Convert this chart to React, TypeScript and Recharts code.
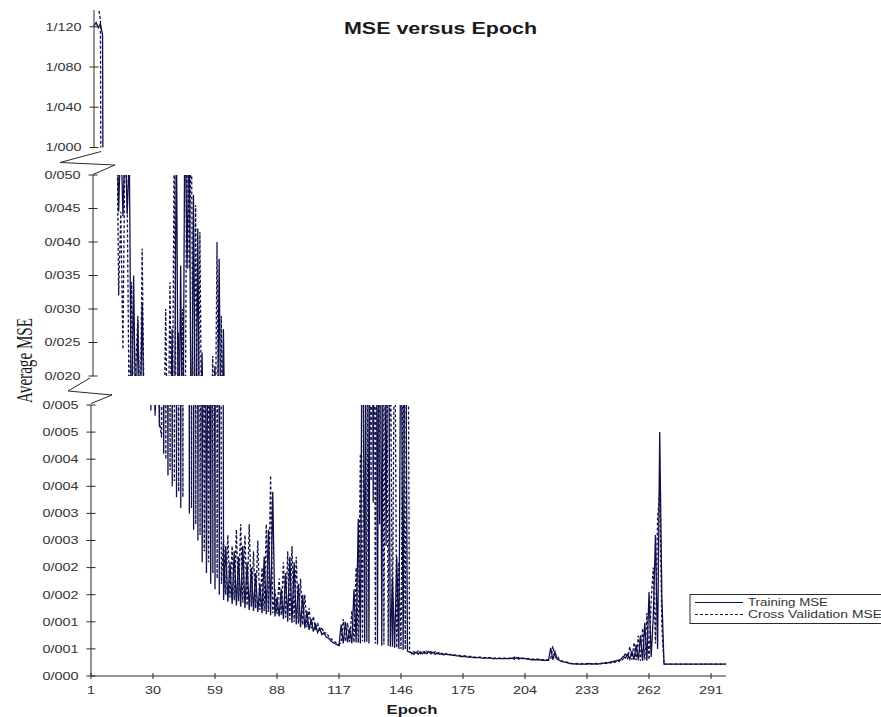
import { LineChart, Line, XAxis, YAxis } from 'recharts';

const W = 881;
const H = 717;
const AXIS = '#2a2a2a';
const TEXT = '#333';
const INK = '#10104a';
const SANS = '"Liberation Sans", Arial, sans-serif';

const EPOCH_TICKS = [1, 30, 59, 88, 117, 146, 175, 204, 233, 262, 291];

// broken y axis: three value bands
const TOP_TICKS = [1.0, 1.04, 1.08, 1.12];
const TOP_LABELS = ['1/000', '1/040', '1/080', '1/120'];
const MID_TICKS = [0.02, 0.025, 0.03, 0.035, 0.04, 0.045, 0.05];
const MID_LABELS = ['0/020', '0/025', '0/030', '0/035', '0/040', '0/045', '0/050'];
const LOW_TICKS = [0, 0.0005, 0.001, 0.0015, 0.002, 0.0025, 0.003, 0.0035, 0.004, 0.0045, 0.005];
const LOW_LABELS = ['0/000', '0/001', '0/001', '0/002', '0/002', '0/003', '0/003', '0/004', '0/004', '0/005', '0/005'];

// epochs 1..298, ten per row
const TRAIN_MSE = [
  1.121, 1.124, 1.119, 1.123, 1.112, 0.41, 0.22, 0.15, 0.11, 0.088,
  0.072, 0.061, 0.0445, 0.057, 0.0438, 0.056, 0.0442, 0.053, 0.0095, 0.035,
  0.011, 0.028, 0.0105, 0.031, 0.0098, 0.0142, 0.0078, 0.0125, 0.0049, 0.0105,
  0.0048, 0.0092, 0.0046, 0.0125, 0.0041, 0.016, 0.0037, 0.027, 0.0035, 0.058,
  0.0033, 0.0365, 0.0031, 0.062, 0.036, 0.06, 0.003, 0.047, 0.0027, 0.042,
  0.0025, 0.0235, 0.0021, 0.0115, 0.0019, 0.0088, 0.0017, 0.0215, 0.0016, 0.0375,
  0.0015, 0.027, 0.0014, 0.0024, 0.00137, 0.0021, 0.00133, 0.0023, 0.0013, 0.0022,
  0.00128, 0.0024, 0.00125, 0.0021, 0.00122, 0.002, 0.0012, 0.0019, 0.00118, 0.0017,
  0.00116, 0.0022, 0.00114, 0.0027, 0.00112, 0.0034, 0.0011, 0.00145, 0.0011, 0.0016,
  0.00105, 0.0019, 0.001, 0.0022, 0.00098, 0.0021, 0.00095, 0.0017, 0.0009, 0.0015,
  0.00088, 0.0012, 0.00085, 0.00105, 0.00082, 0.00095, 0.0008, 0.00088, 0.00076, 0.0008,
  0.00072, 0.0007, 0.00066, 0.00062, 0.0006, 0.00058, 0.00056, 0.00095, 0.0006, 0.001,
  0.00062, 0.00088, 0.0006, 0.0016, 0.00062, 0.0029, 0.0006, 0.0085, 0.00062, 0.0105,
  0.0006, 0.0125, 0.0032, 0.0142, 0.00058, 0.0118, 0.00056, 0.0096, 0.0024, 0.0082,
  0.00054, 0.0018, 0.00052, 0.0022, 0.0005, 0.0075, 0.00048, 0.0088, 0.00046, 0.00044,
  0.00043, 0.0004, 0.00044, 0.0004, 0.00045, 0.00041, 0.00045, 0.00041, 0.00045, 0.00041,
  0.00044, 0.0004, 0.00043, 0.0004, 0.00042, 0.00039, 0.00041, 0.00039, 0.0004, 0.00038,
  0.00038, 0.00037, 0.00037, 0.00036, 0.00036, 0.00036, 0.00035, 0.00035, 0.00035, 0.00034,
  0.00034, 0.00034, 0.00034, 0.00033, 0.00033, 0.00033, 0.00033, 0.00033, 0.00032, 0.00032,
  0.00032, 0.00032, 0.00032, 0.00032, 0.00032, 0.00032, 0.00032, 0.00033, 0.00031, 0.00034,
  0.00031, 0.00033, 0.00032, 0.00032, 0.00031, 0.00031, 0.0003, 0.0003, 0.0003, 0.0003,
  0.0003, 0.00029, 0.00029, 0.00029, 0.00029, 0.00052, 0.0003, 0.00045, 0.00031, 0.00029,
  0.00027, 0.00026, 0.00025, 0.00024, 0.00023, 0.00023, 0.00022, 0.00023, 0.00022, 0.00022,
  0.00022, 0.00022, 0.00022, 0.00023, 0.00022, 0.00022, 0.00023, 0.00022, 0.00023, 0.00023,
  0.00024, 0.00023, 0.00025, 0.00024, 0.00027, 0.00025, 0.00029, 0.00027, 0.00032, 0.00036,
  0.00033, 0.0004, 0.00031, 0.00046, 0.0003, 0.00058, 0.00029, 0.00075, 0.00028, 0.00098,
  0.00028, 0.00155, 0.00035, 0.0011, 0.0026, 0.0005, 0.0045, 0.00146, 0.00022, 0.00022,
  0.00022, 0.00022, 0.00022, 0.00022, 0.00022, 0.00022, 0.00022, 0.00022, 0.00022, 0.00022,
  0.00022, 0.00022, 0.00022, 0.00022, 0.00022, 0.00022, 0.00022, 0.00022, 0.00022, 0.00022,
  0.00022, 0.00022, 0.00022, 0.00022, 0.00022, 0.00022, 0.00022, 0.00022,
];

const CV_MSE = [
  1.16, 1.15, 1.14, 1.127, 0.45, 0.25, 0.17, 0.12, 0.094, 0.078,
  0.07, 0.066, 0.032, 0.0445, 0.024, 0.058, 0.046, 0.011, 0.034, 0.0125,
  0.0215, 0.029, 0.0112, 0.039, 0.0108, 0.0175, 0.0088, 0.0155, 0.005, 0.0125,
  0.0049, 0.0135, 0.0047, 0.0044, 0.03, 0.004, 0.034, 0.0038, 0.056, 0.0036,
  0.0265, 0.0034, 0.03, 0.0033, 0.064, 0.036, 0.059, 0.0031, 0.0455, 0.0028,
  0.0415, 0.0026, 0.0145, 0.0023, 0.0105, 0.0021, 0.023, 0.0019, 0.04, 0.0018,
  0.029, 0.0017, 0.0025, 0.0015, 0.0026, 0.00145, 0.0024, 0.0014, 0.0027, 0.00138,
  0.0028, 0.00135, 0.0026, 0.0013, 0.0028, 0.00128, 0.0023, 0.00125, 0.0025, 0.00122,
  0.002, 0.0012, 0.0028, 0.00118, 0.0037, 0.00116, 0.0016, 0.00114, 0.0018, 0.00112,
  0.0021, 0.00108, 0.0023, 0.00104, 0.0024, 0.001, 0.0022, 0.00097, 0.0018, 0.00094,
  0.0015, 0.0009, 0.00125, 0.00088, 0.0011, 0.00085, 0.00098, 0.00082, 0.0009, 0.00078,
  0.0008, 0.00074, 0.0007, 0.00066, 0.00063, 0.0006, 0.00058, 0.00062, 0.00105, 0.00064,
  0.00098, 0.00063, 0.0012, 0.00062, 0.002, 0.00061, 0.0041, 0.00064, 0.0098, 0.00063,
  0.0135, 0.0036, 0.0155, 0.0006, 0.0128, 0.0028, 0.0112, 0.00058, 0.0091, 0.00056,
  0.0068, 0.00054, 0.0075, 0.00052, 0.0021, 0.0005, 0.0062, 0.00049, 0.0097, 0.00046,
  0.00041, 0.00045, 0.00041, 0.00046, 0.00041, 0.00046, 0.00042, 0.00046, 0.00042, 0.00045,
  0.00041, 0.00045, 0.00041, 0.00044, 0.0004, 0.00043, 0.0004, 0.00042, 0.00039, 0.0004,
  0.00039, 0.00038, 0.00038, 0.00037, 0.00037, 0.00037, 0.00036, 0.00036, 0.00036, 0.00035,
  0.00035, 0.00035, 0.00035, 0.00034, 0.00034, 0.00034, 0.00034, 0.00034, 0.00033, 0.00033,
  0.00033, 0.00033, 0.00033, 0.00033, 0.00033, 0.00033, 0.00033, 0.00032, 0.00035, 0.00032,
  0.00034, 0.00032, 0.00033, 0.00033, 0.00032, 0.00032, 0.00031, 0.00031, 0.00031, 0.00031,
  0.00031, 0.0003, 0.0003, 0.0003, 0.0003, 0.00031, 0.00055, 0.00033, 0.00038, 0.0003,
  0.00028, 0.00027, 0.00026, 0.00025, 0.00024, 0.00023, 0.00023, 0.00022, 0.00023, 0.00022,
  0.00023, 0.00022, 0.00023, 0.00022, 0.00023, 0.00023, 0.00022, 0.00023, 0.00022, 0.00024,
  0.00023, 0.00025, 0.00024, 0.00026, 0.00025, 0.00028, 0.00026, 0.0003, 0.00028, 0.00032,
  0.00043, 0.00031, 0.00054, 0.0003, 0.00062, 0.00029, 0.00074, 0.00028, 0.00088, 0.0003,
  0.00116, 0.0003, 0.0014, 0.002, 0.0006, 0.0029, 0.00343, 0.0009, 0.00022, 0.00022,
  0.00022, 0.00022, 0.00022, 0.00022, 0.00022, 0.00022, 0.00022, 0.00022, 0.00022, 0.00022,
  0.00022, 0.00022, 0.00022, 0.00022, 0.00022, 0.00022, 0.00022, 0.00022, 0.00022, 0.00022,
  0.00022, 0.00022, 0.00022, 0.00022, 0.00022, 0.00022, 0.00022, 0.00022,
];

const SERIES = [
  { key: 'train', name: 'Training MSE', dash: undefined as string | undefined, width: 80 },
  { key: 'cv', name: 'Cross Validation MSE', dash: '3 2', width: 134 },
];

const data = TRAIN_MSE.map((v, i) => ({ epoch: i + 1, train: v, cv: CV_MSE[i] }));

const PLOT_W = 635;
const Y_AXIS_W = 60;
const X_AXIS_H = 30;

const PANELS = [
  { axisX: 94, top: 10, bottom: 147.5, domain: [1.0, 1.1366], ticks: TOP_TICKS, labels: TOP_LABELS, showX: false },
  { axisX: 93, top: 175, bottom: 376, domain: [0.02, 0.05], ticks: MID_TICKS, labels: MID_LABELS, showX: false },
  { axisX: 91, top: 405, bottom: 676, domain: [0, 0.005], ticks: LOW_TICKS, labels: LOW_LABELS, showX: true },
];

const makeYTick = (axisX: number, ticks: number[], labels: string[]) => (p: any) => {
  const i = ticks.findIndex((t) => Math.abs(t - p.payload.value) < 1e-9);
  const label = labels[i] ?? '';
  return (
    <g>
      <line x1={axisX - 4.5} x2={axisX + 4.5} y1={p.y} y2={p.y} stroke={AXIS} />
      <text x={axisX - 12.5} y={p.y} dy="0.35em" textAnchor="end" fontSize={11} fill={TEXT}
        fontFamily={SANS} textLength={36} lengthAdjust="spacingAndGlyphs">{label}</text>
    </g>
  );
};

const makeXTick = (axisY: number) => (p: any) => {
  const s = String(p.payload.value);
  return (
    <g>
      <line x1={p.x} x2={p.x} y1={axisY - 3} y2={axisY + 3} stroke={AXIS} />
      <text x={p.x} y={axisY + 18} textAnchor="middle" fontSize={11} fill={TEXT}
        fontFamily={SANS} textLength={s.length * 8} lengthAdjust="spacingAndGlyphs">{s}</text>
    </g>
  );
};

function Panel({ axisX, top, bottom, domain, ticks, labels, showX }: typeof PANELS[number]) {
  const margin = {
    top,
    bottom: showX ? H - bottom - X_AXIS_H : H - bottom,
    left: axisX - Y_AXIS_W,
    right: W - axisX - PLOT_W,
  };
  return (
    <div style={{ position: 'absolute', left: 0, top: 0 }}>
      <LineChart width={W} height={H} data={data} margin={margin}>
        <XAxis dataKey="epoch" type="number" domain={[1, 298]} ticks={EPOCH_TICKS} interval={0}
          hide={!showX} height={X_AXIS_H} axisLine={{ stroke: AXIS }} tickLine={false}
          tick={makeXTick(bottom)} />
        <YAxis type="number" domain={domain} ticks={ticks} interval={0} allowDataOverflow
          width={Y_AXIS_W} axisLine={{ stroke: AXIS }} tickLine={false}
          tick={makeYTick(axisX, ticks, labels)} />
        {SERIES.map((s) => (
          <Line key={s.key} dataKey={s.key} name={s.name} type="linear" stroke={INK}
            strokeWidth={1.3} strokeDasharray={s.dash} dot={false} activeDot={false}
            isAnimationActive={false} />
        ))}
      </LineChart>
    </div>
  );
}

export default function App() {
  return (
    <div style={{ position: 'absolute', left: 0, top: 0, width: W, height: H, background: '#fff', overflow: 'hidden' }}>
      {PANELS.map((p, i) => <Panel key={i} {...p} />)}
      <svg width={W} height={H} style={{ position: 'absolute', left: 0, top: 0 }}>
        <text x={440.5} y={34} textAnchor="middle" fontSize={16} fontWeight="bold" fill="#1a1a1a"
          fontFamily={SANS} textLength={193} lengthAdjust="spacingAndGlyphs">MSE versus Epoch</text>
        <text transform="translate(32 360.5) scale(1.6 1) rotate(-90)" textAnchor="middle" fontSize={15}
          fill="#1a1a1a" fontFamily='"Liberation Serif", "Times New Roman", serif'
          textLength={85} lengthAdjust="spacingAndGlyphs">Average MSE</text>
        <text x={412} y={714} textAnchor="middle" fontSize={13} fontWeight="bold" fill="#1a1a1a"
          fontFamily={SANS} textLength={51} lengthAdjust="spacingAndGlyphs">Epoch</text>
        {/* axis break marks */}
        <polyline points="101,151.5 60,162.5 115,165 93,174.5" fill="none" stroke={AXIS} />
        <polyline points="90,378 68,391 112,395 91,403.5" fill="none" stroke={AXIS} />
        {/* legend */}
        <rect x={690} y={594.5} width={220} height={29} fill="#fff" stroke={AXIS} />
        {SERIES.map((s, i) => (
          <g key={s.key}>
            <line x1={695} x2={743} y1={602.5 + i * 12} y2={602.5 + i * 12} stroke={INK} strokeDasharray={s.dash} />
            <text x={748} y={606 + i * 12} fontSize={10} fill={TEXT} fontFamily={SANS}
              textLength={s.width} lengthAdjust="spacingAndGlyphs">{s.name}</text>
          </g>
        ))}
      </svg>
    </div>
  );
}
